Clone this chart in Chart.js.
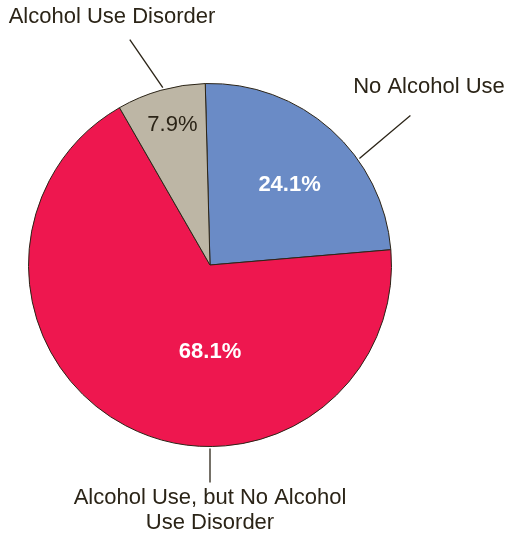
<!DOCTYPE html>
<html>
<head>
<meta charset="utf-8">
<script src="https://cdn.jsdelivr.net/npm/chart.js@4/dist/chart.umd.min.js"></script>
<style>
  html, body { margin: 0; padding: 0; background: #fff; }
  #wrap { width: 506px; height: 535px; }
</style>
</head>
<body>
<div id="wrap"><canvas id="pieChart" width="506" height="535"></canvas></div>
<script>
const categories = ["No Alcohol Use", "Alcohol Use, but No Alcohol Use Disorder", "Alcohol Use Disorder"];
const percentages = [24.1, 68.1, 7.9];
const sliceColors = ["#6a8bc6", "#ee174f", "#bdb6a5"];

const textColor = "#2b2417";

// label placement per slice: inside label (angle in deg from top, radius factor),
// leader line (start angle on rim, end offset) and outside text
const labelStyle = [
  { inAngle: 45, inR: 0.62, inColor: "#fff", inBold: true,
    lineAngle: 54.5, lineEnd: [51, -43], text: ["No Alcohol Use"], textPos: [219, -178] },
  { inAngle: 180, inR: 0.48, inColor: "#fff", inBold: true,
    lineAngle: 180, lineEnd: [0, 34], text: ["Alcohol Use, but No Alcohol", "Use Disorder"], textPos: [0, 233] },
  { inAngle: -15, inR: 0.8, inColor: textColor, inBold: false,
    lineAngle: -14.9, lineEnd: [-33, -48], text: ["Alcohol Use Disorder"], textPos: [-98, -248] },
];

const pieLabels = {
  id: "pieLabels",
  afterDatasetsDraw(chart) {
    const ctx = chart.ctx;
    const arcs = chart.getDatasetMeta(0).data;
    ctx.save();
    arcs.forEach((arc, i) => {
      const s = labelStyle[i];
      const cx = arc.x, cy = arc.y, r = arc.outerRadius;
      // inside percentage
      const a = (s.inAngle * Math.PI) / 180;
      ctx.fillStyle = s.inColor;
      ctx.font = (s.inBold ? "bold " : "") + "22px 'Liberation Sans', Arial, sans-serif";
      ctx.textAlign = "center";
      ctx.textBaseline = "middle";
      ctx.fillText(percentages[i].toFixed(1) + "%", cx + Math.sin(a) * r * s.inR, cy - Math.cos(a) * r * s.inR);
      // leader line
      const la = (s.lineAngle * Math.PI) / 180;
      const x0 = cx + Math.sin(la) * (r + 2);
      const y0 = cy - Math.cos(la) * (r + 2);
      ctx.strokeStyle = textColor;
      ctx.lineWidth = 1.3;
      ctx.beginPath();
      ctx.moveTo(x0, y0);
      ctx.lineTo(x0 + s.lineEnd[0], y0 + s.lineEnd[1]);
      ctx.stroke();
      // outside text
      ctx.fillStyle = textColor;
      ctx.font = "22px 'Liberation Sans', Arial, sans-serif";
      s.text.forEach((line, j) => {
        ctx.fillText(line, cx + s.textPos[0], cy + s.textPos[1] + j * 25);
      });
    });
    ctx.restore();
  },
};

new Chart(document.getElementById("pieChart").getContext("2d"), {
  type: "pie",
  data: {
    labels: categories,
    datasets: [
      {
        data: percentages,
        backgroundColor: sliceColors,
        borderColor: textColor,
        borderWidth: 1,
      },
    ],
  },
  options: {
    responsive: false,
    animation: false,
    rotation: -1.5,
    layout: { padding: { left: 28, right: 114, top: 83, bottom: 88 } },
    plugins: { legend: { display: false }, tooltip: { enabled: false } },
  },
  plugins: [pieLabels],
});
</script>
</body>
</html>
